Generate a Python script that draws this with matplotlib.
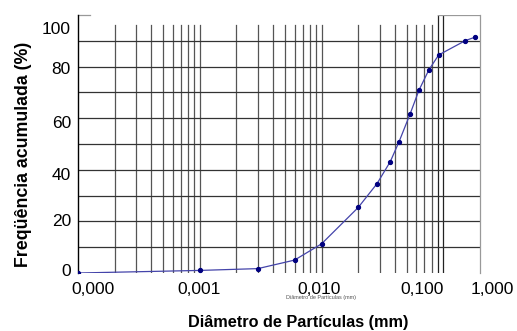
import numpy as np
import matplotlib
matplotlib.use("Agg")
import matplotlib.pyplot as plt

plt.rcParams['font.family'] = ['Liberation Sans', 'DejaVu Sans']

# data
diam = [0.0001, 0.001, 0.003, 0.006, 0.010, 0.020, 0.0285, 0.0367, 0.0433,
        0.0533, 0.063, 0.076, 0.0915, 0.152, 0.182]
freq = [0.0, 1.0, 1.7, 5.0, 11.3, 25.4, 34.6, 43.2, 50.9,
        61.6, 70.8, 78.7, 84.5, 90.1, 91.4]
xtick_labels = ["0,000", "0,001", "0,010", "0,100", "1,000"]
ytick_labels = ["100", "80", "60", "40", "20", "0"]

W, H = 517, 331
fig = plt.figure(figsize=(W / 100, H / 100), dpi=100)
L, R, T, B = 78, 480, 15, 273
ax = fig.add_axes([L / W, (H - B) / H, (R - L) / W, (B - T) / H])
ax.set_xscale('log')
ax.set_xlim(1e-4, 0.2)
ax.set_ylim(0, 100)

# vertical grid lines
gx = []
for dec in [1e-4, 1e-3, 1e-2, 1e-1]:
    for m in range(1, 10):
        v = dec * m
        if 1e-4 < v <= 0.1:
            gx.append(v)
for v in gx:
    top = 100 if v >= 0.09 else 96.3
    col = '#222222' if v >= 0.09 else '#555555'
    ax.plot([v, v], [0, top], color=col, lw=0.9, zorder=1)
# horizontal grid lines
for yv in range(10, 100, 10):
    ax.axhline(yv, color='#333333', lw=0.9, zorder=1)
# top box
ax.plot([0.09, 0.2], [100, 100], color='#999999', lw=0.9, zorder=1)
ax.plot([1e-4, 1.25e-4], [100, 100], color='#999999', lw=0.9, zorder=1, clip_on=False)

ax.plot(diam, freq, color='#4444aa', lw=0.9, zorder=3)
ax.plot(diam, freq, 'o', color='#000080', ms=2.8, zorder=4)

for s in ['top', 'bottom']:
    ax.spines[s].set_visible(False)
ax.spines['left'].set_color('black')
ax.spines['left'].set_linewidth(1.0)
ax.spines['right'].set_color('#999999')
ax.spines['right'].set_linewidth(0.9)
ax.set_xticks([])
ax.set_yticks([])
ax.minorticks_off()

def px(x, y):
    return x / W, 1 - y / H

xlab_x = [92.5, 199.5, 319, 422, 492]
for lab, xp in zip(xtick_labels, xlab_x):
    fig.text(*px(xp, 290), lab, ha='center', va='center', fontsize=12.5)
ylab_y = [30, 70, 123, 175, 221.7, 271.7]
for lab, yp in zip(ytick_labels, ylab_y):
    fig.text(*px(71, yp), lab, ha='right', va='center', fontsize=12.5)

fig.text(*px(321, 297), "Diâmetro de Partículas (mm)", ha='center', va='center',
         fontsize=4, color='#555555')
fig.text(*px(298, 322), "Diâmetro de Partículas (mm)", ha='center', va='center',
         fontsize=11.7, fontweight='bold')
fig.text(*px(24, 154), "Freqüência acumulada (%)", ha='center', va='center',
         fontsize=12.8, fontweight='bold', rotation=90)

fig.savefig("out.png", dpi=100)
